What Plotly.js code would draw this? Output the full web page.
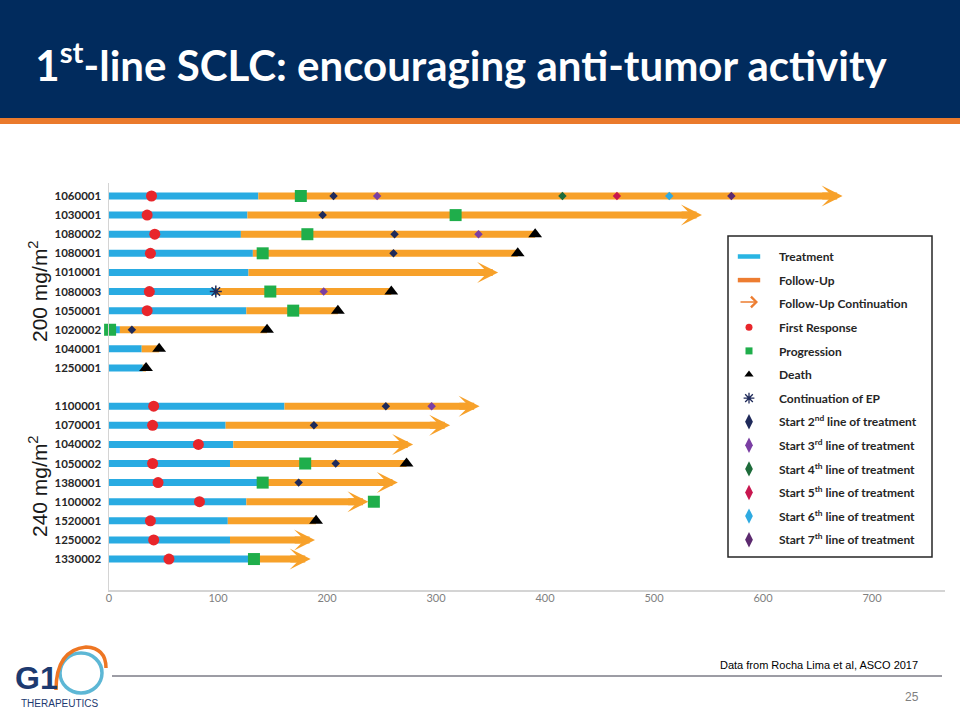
<!DOCTYPE html>
<html><head><meta charset="utf-8">
<script src="https://cdn.plot.ly/plotly-3.0.1.min.js"></script>
<style>html,body{margin:0;padding:0;background:#fff;}#chart{width:960px;height:720px;}</style>
</head><body><div id="chart"></div>
<script>
// ---------- data ----------
const ids200 = ['1060001','1030001','1080002','1080001','1010001','1080003','1050001','1020002','1040001','1250001'];
const ids240 = ['1100001','1070001','1040002','1050002','1380001','1100002','1520001','1250002','1330002'];
const patients = ids200.concat(ids240);
const rowOrder = ids200.concat([''], ids240);
const treatEnd      = [137,127,121,132,128, 98,126, 10, 30, 31, 161,107,114,111,138,126,109,111,129];
const followEnd     = [673,544,391,375,357,259,210,145, 46, 34, 340,313,279,273,265,238,190,189,185];
const continues     = [  1,  1,  0,  0,  1,  0,  0,  0,  0,  0,   1,  1,  1,  0,  1,  1,  0,  1,  1];
const firstResponse = [ 39, 35, 42, 38,null,37, 35,null,null,null, 41, 40, 82, 40, 45, 83, 38, 41, 55];
const progression   = [176,318,182,141,null,148,169,  1,null,null,null,null,null,180,141,243,null,null,133];
const death         = [null,null,391,375,null,259,210,145, 46, 34, null,null,null,273,null,null,190,null,null];
const epContinuation= [null,null,null,null,null,98,null,null,null,null, null,null,null,null,null,null,null,null,null];
const line2 = [206,196,262,261,null,null,null, 21,null,null, 254,188,null,208,174,null,null,null,null];
const line3 = [246,null,339,null,null,197,null,null,null,null, 296,null,null,null,null,null,null,null,null];
const line4 = [416,null,null,null,null,null,null,null,null,null, null,null,null,null,null,null,null,null,null];
const line5 = [466,null,null,null,null,null,null,null,null,null, null,null,null,null,null,null,null,null,null];
const line6 = [514,null,null,null,null,null,null,null,null,null, null,null,null,null,null,null,null,null,null];
const line7 = [571,null,null,null,null,null,null,null,null,null, null,null,null,null,null,null,null,null,null];
const xTicks = [0,100,200,300,400,500,600,700];
const legendNames = ['Treatment','Follow-Up','Follow-Up Continuation','First Response','Progression','Death',
  'Continuation of EP','Start 2<sup>nd</sup> line of treatment','Start 3<sup>rd</sup> line of treatment',
  'Start 4<sup>th</sup> line of treatment','Start 5<sup>th</sup> line of treatment',
  'Start 6<sup>th</sup> line of treatment','Start 7<sup>th</sup> line of treatment'];

// ---------- styles ----------
const C = {treat:'#29abe2', fu:'#f7a12a', fuLeg:'#ed7d31', fr:'#e8262b', prog:'#1fae4b', death:'#000000',
  ep:'#1f2a5a', l2:'#1f2a5a', l3:'#7a3ea3', l4:'#1d6b3a', l5:'#c8174f', l6:'#2eaae1', l7:'#5c2a6f'};
const BAR_W = 7, HEAD_LEN = 20, LINE_INSET = 8;

const rowOf = id => rowOrder.indexOf(id);
const rows = patients.map(rowOf);

// px -> paper helpers for decorations
const PL=109, PR=945, PT=183, PB=590;
const px = v => (v-PL)/(PR-PL);
const py = v => (PB-v)/(PB-PT);

const traces = [];
{ const x=[], y=[];
  patients.forEach((p,i)=>{ x.push(0,treatEnd[i],null); y.push(rows[i],rows[i],null); });
  traces.push({type:'scatter',mode:'lines',x,y,line:{color:C.treat,width:BAR_W},showlegend:false,hoverinfo:'skip'}); }
{ const x=[], y=[];
  patients.forEach((p,i)=>{ if(followEnd[i]>treatEnd[i]){
    x.push(treatEnd[i], continues[i]? followEnd[i]-LINE_INSET : followEnd[i], null); y.push(rows[i],rows[i],null);} });
  traces.push({type:'scatter',mode:'lines',x,y,line:{color:C.fu,width:BAR_W},showlegend:false,hoverinfo:'skip'}); }

function markers(vals, symbol, color, size, lw){
  const x=[], y=[];
  vals.forEach((v,i)=>{ if(v!==null){ x.push(v); y.push(rows[i]); } });
  return {type:'scatter',mode:'markers',x,y,cliponaxis:false,showlegend:false,hoverinfo:'skip',
    marker:{symbol,color,size,line:{width:lw||0,color}}};
}
traces.push(markers(line2,'diamond',C.l2,6.5));
traces.push(markers(line3,'diamond',C.l3,6.5));
traces.push(markers(line4,'diamond',C.l4,6.5));
traces.push(markers(line5,'diamond',C.l5,6.5));
traces.push(markers(line6,'diamond',C.l6,6.5));
traces.push(markers(line7,'diamond',C.l7,6.5));
traces.push(markers(epContinuation,'asterisk-open',C.ep,10,1.5));
traces.push(markers(firstResponse,'circle',C.fr,11));
traces.push(markers(progression,'square',C.prog,12));
traces.push(markers(death,'triangle-up',C.death,12));

// legend-only entries
const legStyles = [
  {mode:'markers',marker:{symbol:'line-ew-open',color:'#29b5e3',size:20,line:{width:4.5,color:'#29b5e3'}}},
  {mode:'markers',marker:{symbol:'line-ew-open',color:C.fuLeg,size:20,line:{width:4.5,color:C.fuLeg}}},
  {mode:'lines',line:{color:'rgba(0,0,0,0)',width:1}},
  {mode:'markers',marker:{symbol:'circle',color:C.fr,size:7}},
  {mode:'markers',marker:{symbol:'square',color:C.prog,size:7}},
  {mode:'markers',marker:{symbol:'triangle-up',color:'#000',size:8}},
  {mode:'markers',marker:{symbol:'asterisk-open',color:C.ep,size:9,line:{width:1.3,color:C.ep}}},
  {mode:'markers',marker:{symbol:'diamond-tall',color:C.l2,size:11}},
  {mode:'markers',marker:{symbol:'diamond-tall',color:C.l3,size:11}},
  {mode:'markers',marker:{symbol:'diamond-tall',color:C.l4,size:11}},
  {mode:'markers',marker:{symbol:'diamond-tall',color:C.l5,size:11}},
  {mode:'markers',marker:{symbol:'diamond-tall',color:C.l6,size:11}},
  {mode:'markers',marker:{symbol:'diamond-tall',color:C.l7,size:11}}
];
legendNames.forEach((n,i)=>{
  traces.push(Object.assign({type:'scatter',x:[null],y:[null],name:n,legendgroup:'g'+i,showlegend:true,hoverinfo:'skip'},legStyles[i]));
});

const annotations = [];
patients.forEach((p,i)=>{ if(continues[i]) annotations.push({
  xref:'x',yref:'y',axref:'x',ayref:'pixel',x:followEnd[i],y:rows[i],ax:followEnd[i]-HEAD_LEN,ay:0,
  text:'',showarrow:true,arrowhead:3,arrowwidth:BAR_W,arrowsize:0.5,arrowcolor:C.fu,standoff:0}); });

const A = (x,y,text,font,extra)=>Object.assign({xref:'paper',yref:'paper',x:px(x),y:py(y),text,showarrow:false,
  xanchor:'center',yanchor:'middle',font},extra||{});
const grpFont = {family:'Liberation Sans, Arial, sans-serif',size:21,color:'#1a1a1a'};
annotations.push(A(38,291,'200 mg/m<sup>2</sup>',grpFont,{textangle:-90}));
annotations.push(A(38,486,'240 mg/m<sup>2</sup>',grpFont,{textangle:-90}));
// legend arrow icon
annotations.push({xref:'paper',yref:'paper',axref:'pixel',ayref:'pixel',x:px(758),y:py(302),ax:-19,ay:0,text:'',showarrow:true,
  arrowhead:4,arrowwidth:1.3,arrowsize:1.6,arrowcolor:C.fuLeg,standoff:0});
// footer
annotations.push(A(920,665,'Data from Rocha Lima et al, ASCO 2017',{family:'Liberation Sans, Arial, sans-serif',size:11,color:'#000'},{xanchor:'right'}));
annotations.push(A(912,697,'25',{family:'Liberation Sans Narrow, Liberation Sans, Arial, sans-serif',size:12,color:'#7f7f7f'}));
// logo text
annotations.push(A(36,678,'G1',{family:'Liberation Sans, Arial, sans-serif',size:32,color:'#1d3a70',weight:700}));
annotations.push(A(60,703,'THERAPEUTICS',{family:'Liberation Sans Narrow, Liberation Sans, Arial, sans-serif',size:10,color:'#1d3a70'}));

const P = (x,y)=> px(x)+','+py(y);
const shapes = [
  {type:'rect',xref:'paper',yref:'paper',x0:px(0),x1:px(960),y0:py(118),y1:py(0),fillcolor:'#012b5d',line:{width:0},layer:'below'},
  {type:'rect',xref:'paper',yref:'paper',x0:px(0),x1:px(960),y0:py(124),y1:py(118),fillcolor:'#ea7a2c',line:{width:0},layer:'below'},
  {type:'line',xref:'paper',yref:'paper',x0:px(112),x1:px(942),y0:py(676),y1:py(676),line:{color:'#3a3a4a',width:1}},
  {type:'rect',xref:'paper',yref:'paper',x0:px(728),x1:px(932),y0:py(557),y1:py(236),line:{color:'#262626',width:1.5},fillcolor:'#fff',layer:'below'},
  {type:'circle',xref:'paper',yref:'paper',x0:px(60),x1:px(102),y0:py(693),y1:py(653),line:{color:'#5db7d5',width:3.5},layer:'below'},
  {type:'path',xref:'paper',yref:'paper',path:'M'+P(56,690)+' Q'+P(56,650)+' '+P(86,647)+' Q'+P(106,648)+' '+P(106,668),
    line:{color:'#ee7623',width:3.5},layer:'below'}
];

const layout = {
  width:960,height:720,margin:{l:PL,r:960-PR,t:PT,b:720-PB,pad:0},
  paper_bgcolor:'#fff',plot_bgcolor:'rgba(0,0,0,0)',
  title:{text:'1<sup>st</sup>-line SCLC: encouraging anti-tumor activity',xref:'container',yref:'container',
    x:461/960,y:1-66/720,xanchor:'center',yanchor:'middle',
    font:{family:'Lato, sans-serif',size:42,color:'#ffffff',weight:700}},
  xaxis:{range:[0,767],tickvals:xTicks,showgrid:false,zeroline:false,showline:true,linecolor:'#d4d4d4',linewidth:1.5,
    ticks:'',ticklabelstandoff:-3,tickfont:{family:'Lato, sans-serif',size:11,color:'#7f7f7f'},fixedrange:true},
  yaxis:{range:[20.62,-0.68],tickvals:rows,ticktext:patients,showgrid:false,zeroline:false,showline:true,
    linecolor:'#d4d4d4',linewidth:1.5,ticks:'',ticklabelstandoff:4,
    tickfont:{family:'Lato, sans-serif',size:11.5,color:'#262626',weight:700},fixedrange:true},
  showlegend:true,
  legend:{x:px(719),y:py(242),xanchor:'left',yanchor:'top',borderwidth:0,bgcolor:'rgba(0,0,0,0)',itemwidth:50,
    tracegroupgap:4.6,font:{family:'Lato, sans-serif',size:12,color:'#262626',weight:700},traceorder:'grouped'},
  annotations, shapes
};
Plotly.newPlot('chart',traces,layout,{displayModeBar:false,staticPlot:true});
</script></body></html>
